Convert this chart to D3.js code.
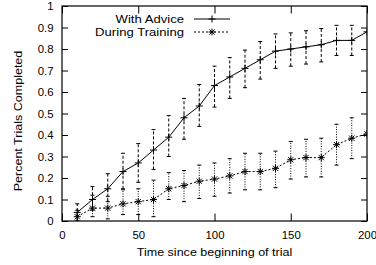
<!DOCTYPE html>
<html>
<head>
<meta charset="utf-8">
<script src="https://cdn.jsdelivr.net/npm/d3@7"></script>
<style>
  html, body { margin: 0; padding: 0; background: #fff; }
  svg { display: block; font-family: "Liberation Sans", Arial, Helvetica, sans-serif; }
</style>
</head>
<body>
<svg id="chart" width="376" height="265"></svg>
<script>
// ---- data ----
const times = [10, 20, 30, 40, 50, 60, 70, 80, 90, 100, 110, 120, 130, 140, 150, 160, 170, 180, 190, 200];
const advice   = [0.04, 0.10, 0.15, 0.23, 0.27, 0.33, 0.39, 0.48, 0.535, 0.63, 0.67, 0.71, 0.75, 0.79, 0.80, 0.81, 0.82, 0.84, 0.84, 0.88];
const adviceLo = [0.00, 0.05, 0.09, 0.15, 0.18, 0.24, 0.30, 0.38, 0.44, 0.53, 0.57, 0.62, 0.66, 0.71, 0.72, 0.73, 0.74, 0.77, 0.77, null];
const adviceHi = [0.08, 0.16, 0.22, 0.315, 0.36, 0.425, 0.49, 0.57, 0.635, 0.72, 0.76, 0.795, 0.835, 0.87, 0.875, 0.885, 0.895, 0.91, 0.91, null];
const training   = [0.02, 0.06, 0.06, 0.08, 0.09, 0.10, 0.15, 0.165, 0.185, 0.195, 0.21, 0.23, 0.23, 0.245, 0.285, 0.295, 0.295, 0.355, 0.385, 0.405];
const trainingLo = [0.00, 0.02, 0.01, 0.03, 0.03, 0.02, 0.10, 0.09, 0.105, 0.115, 0.13, 0.145, 0.145, 0.155, 0.195, 0.205, 0.205, 0.26, 0.29, null];
const trainingHi = [0.05, 0.12, 0.115, 0.145, 0.15, 0.19, 0.225, 0.235, 0.26, 0.27, 0.29, 0.315, 0.315, 0.325, 0.37, 0.38, 0.385, 0.45, 0.48, null];
const xTicks = [0, 50, 100, 150, 200];
const yTicks = [0, 0.1, 0.2, 0.3, 0.4, 0.5, 0.6, 0.7, 0.8, 0.9, 1];
const seriesNames = ["With Advice", "During Training"];
const xTitle = "Time since beginning of trial";
const yTitle = "Percent Trials Completed";

// ---- layout ----
const L = 62, R = 367, T = 6, B = 221;
const STRETCH = 1.14;
const svg = d3.select("#chart");
const x = d3.scaleLinear().domain([0, 200]).range([L, R]);
const y = d3.scaleLinear().domain([0, 1]).range([B, T]);

svg.append("defs").append("clipPath").attr("id", "plotclip")
  .append("rect").attr("x", L).attr("y", T).attr("width", R - L).attr("height", B - T);

// axes (ticks inside, mirrored)
const fmtY = d => d === 0 ? "0" : d === 1 ? "1" : d3.format(".1f")(d);
const gx = svg.append("g").attr("transform", `translate(0,${B})`)
  .call(d3.axisBottom(x).tickValues(xTicks).tickSize(-7.5).tickFormat(d3.format("d")));
const gxt = svg.append("g").attr("transform", `translate(0,${T})`)
  .call(d3.axisTop(x).tickValues(xTicks).tickSize(-7.5).tickFormat(""));
const gy = svg.append("g").attr("transform", `translate(${L},0)`)
  .call(d3.axisLeft(y).tickValues(yTicks).tickSize(-6).tickFormat(fmtY));
const gyr = svg.append("g").attr("transform", `translate(${R},0)`)
  .call(d3.axisRight(y).tickValues(yTicks).tickSize(-6).tickFormat(""));
[gx, gxt, gy, gyr].forEach(g => {
  g.select(".domain").remove();
  g.selectAll(".tick line").attr("stroke", "#000").attr("stroke-width", 1);
});
gx.selectAll(".tick text")
  .attr("y", 0).attr("dy", 0)
  .attr("transform", `translate(0,18) scale(${STRETCH},1)`)
  .attr("font-size", 10).attr("fill", "#000")
  .attr("font-family", "Liberation Sans, Arial, sans-serif");
gy.selectAll(".tick text")
  .attr("x", 0).attr("dy", "0.36em")
  .attr("transform", `translate(-8.5,0) scale(${STRETCH},1)`)
  .attr("font-size", 10).attr("fill", "#000")
  .attr("font-family", "Liberation Sans, Arial, sans-serif");

// border
svg.append("rect").attr("x", L).attr("y", T).attr("width", R - L).attr("height", B - T)
  .attr("fill", "none").attr("stroke", "#000").attr("stroke-width", 1.2);

// axis titles
svg.append("text").text(xTitle)
  .attr("text-anchor", "middle").attr("font-size", 11).attr("fill", "#000")
  .attr("transform", `translate(${(L + R) / 2},256) scale(${STRETCH},1)`);
svg.append("text").text(yTitle)
  .attr("text-anchor", "middle").attr("font-size", 11).attr("fill", "#000")
  .attr("transform", `translate(22,121) rotate(-90) scale(${STRETCH},1)`);

// markers
function plusPath(cx, cy, r) {
  return `M${cx - r},${cy}H${cx + r}M${cx},${cy - r}V${cy + r}`;
}
function starPath(cx, cy, r) {
  const d = r * 0.75;
  return plusPath(cx, cy, r) + `M${cx - d},${cy - d}L${cx + d},${cy + d}M${cx - d},${cy + d}L${cx + d},${cy - d}`;
}

const plot = svg.append("g").attr("clip-path", "url(#plotclip)");

function drawSeries(vals, lo, hi, lineDash, errDash, marker) {
  const pts = times.map((t, i) => ({ t, v: vals[i], lo: lo[i], hi: hi[i] }));
  const eb = plot.append("g");
  pts.filter(p => p.lo !== null && p.hi !== null).forEach(p => {
    const cx = x(p.t);
    eb.append("line").attr("x1", cx).attr("x2", cx).attr("y1", y(p.lo)).attr("y2", y(p.hi))
      .attr("stroke", "#000").attr("stroke-width", 1).attr("stroke-dasharray", errDash);
    [p.lo, p.hi].forEach(v => {
      eb.append("line").attr("x1", cx - 2).attr("x2", cx + 2).attr("y1", y(v)).attr("y2", y(v))
        .attr("stroke", "#000").attr("stroke-width", 1);
    });
  });
  const line = d3.line().x(p => x(p.t)).y(p => y(p.v));
  plot.append("path").datum(pts).attr("d", line).attr("fill", "none")
    .attr("stroke", "#000").attr("stroke-width", 1).attr("stroke-dasharray", lineDash);
  plot.append("path")
    .attr("d", pts.map(p => marker(x(p.t), y(p.v), 3.5)).join(""))
    .attr("fill", "none").attr("stroke", "#000").attr("stroke-width", 1);
}

drawSeries(advice, adviceLo, adviceHi, null, "3,2", plusPath);
drawSeries(training, trainingLo, trainingHi, "2,2", "1,1.5", starPath);

// legend
const legend = svg.append("g");
const legendRows = [
  { name: seriesNames[0], yText: 22.5, yLine: 19, dash: null, marker: plusPath },
  { name: seriesNames[1], yText: 35.5, yLine: 32, dash: "2,2", marker: starPath }
];
legendRows.forEach(r => {
  legend.append("text").text(r.name)
    .attr("text-anchor", "end").attr("font-size", 11.5).attr("fill", "#000")
    .attr("transform", `translate(184,${r.yText}) scale(${STRETCH},1)`);
  legend.append("line").attr("x1", 194).attr("x2", 230).attr("y1", r.yLine).attr("y2", r.yLine)
    .attr("stroke", "#000").attr("stroke-width", 1).attr("stroke-dasharray", r.dash);
  legend.append("path").attr("d", r.marker(212, r.yLine, 3.5))
    .attr("fill", "none").attr("stroke", "#000").attr("stroke-width", 1);
});
</script>
</body>
</html>
